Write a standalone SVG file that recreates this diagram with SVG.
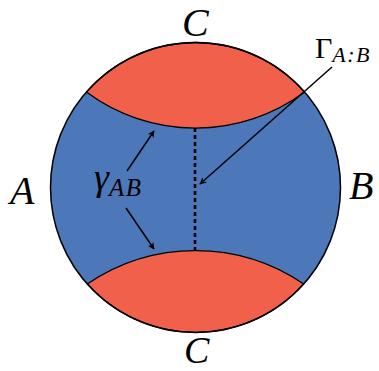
<svg xmlns="http://www.w3.org/2000/svg" width="379" height="371" viewBox="0 0 379 371">
<style>
.lbl{font-family:"Liberation Serif","DejaVu Serif",serif;font-style:italic;fill:#000}
.conn{stroke:#000;stroke-width:1.5;fill:none}
</style>
<defs>
<marker id="ah" viewBox="0 0 10 10" refX="9" refY="5" markerWidth="7" markerHeight="7" markerUnits="userSpaceOnUse" orient="auto">
<path d="M0,0 L10,5 L0,10 L3,5 Z" fill="#000"/>
</marker>
</defs>
<g id="disk">
<circle cx="195.5" cy="187.5" r="145" fill="#4C78BA"/>
<path d="M86.4,92 A183,183 0 0 0 304.6,92 A145,145 0 0 0 86.4,92 Z" fill="#F1604A" stroke="#000" stroke-width="1.3"/>
<path d="M87.3,284 A192,192 0 0 1 303.7,284 A145,145 0 0 1 87.3,284 Z" fill="#F1604A" stroke="#000" stroke-width="1.3"/>
<circle cx="195.5" cy="187.5" r="145" fill="none" stroke="#000" stroke-width="1.5"/>
</g>
<g id="connectors">
<line x1="195" y1="128" x2="195" y2="250" stroke="#000" stroke-width="2.6" stroke-dasharray="4,3"/>
<line class="conn" x1="127" y1="171" x2="154" y2="131" marker-end="url(#ah)"/>
<line class="conn" x1="126" y1="208" x2="154" y2="249" marker-end="url(#ah)"/>
<line class="conn" x1="332" y1="67" x2="200" y2="184" marker-end="url(#ah)"/>
</g>
<g id="labels">
<text class="lbl" x="182" y="36" font-size="40">C</text>
<text class="lbl" x="184" y="363" font-size="38">C</text>
<text class="lbl" x="10" y="204" font-size="40">A</text>
<text class="lbl" x="349" y="199" font-size="40">B</text>
<text class="lbl" x="94" y="190" font-size="38">γ<tspan font-size="25" dy="6" letter-spacing="1.5">AB</tspan></text>
<text x="315" y="58" font-size="30" font-family="Liberation Serif, serif">Γ<tspan class="lbl" font-size="22" dy="4" letter-spacing="1.5">A:B</tspan></text>
</g>
</svg>
